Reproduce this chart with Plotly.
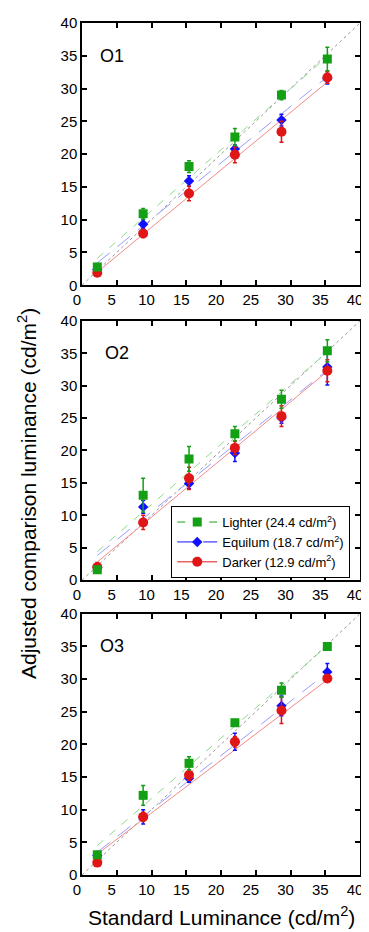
import plotly.graph_objects as go

# ---------------- data ----------------
std_lum = [2.2, 8.8, 15.4, 22.0, 28.7, 35.3]
panels = ["O1", "O2", "O3"]

lighter = {
    "O1": [2.8, 10.9, 18.1, 22.6, 29.0, 34.5],
    "O2": [1.6, 13.1, 18.7, 22.6, 27.9, 35.4],
    "O3": [3.1, 12.2, 17.1, 23.3, 28.3, 35.0],
}
lighter_err = {
    "O1": [0.5, 0.8, 0.9, 1.3, 0.7, 1.8],
    "O2": [0.5, 2.6, 1.9, 1.1, 1.4, 1.7],
    "O3": [0.3, 1.5, 1.0, 0.5, 1.1, 0.3],
}
equilum = {
    "O1": [2.4, 9.3, 15.9, 20.8, 25.2, 31.5],
    "O2": [2.0, 11.3, 14.9, 19.6, 25.0, 32.9],
    "O3": [3.0, 8.9, 14.8, 20.4, 25.9, 31.1],
}
equilum_err = {
    "O1": [0.4, 0.7, 0.8, 0.6, 0.9, 0.8],
    "O2": [0.5, 1.0, 0.8, 1.3, 0.8, 2.8],
    "O3": [0.4, 1.1, 0.6, 1.3, 1.5, 1.3],
}
darker = {
    "O1": [1.9, 7.9, 14.0, 19.9, 23.4, 31.7],
    "O2": [2.0, 8.9, 15.7, 20.4, 25.3, 32.3],
    "O3": [1.9, 8.9, 15.3, 20.4, 25.2, 30.1],
}
darker_err = {
    "O1": [0.3, 0.6, 1.1, 1.2, 1.6, 0.9],
    "O2": [0.7, 1.1, 1.7, 1.0, 1.6, 1.7],
    "O3": [0.3, 0.7, 0.8, 0.8, 2.0, 0.5],
}
# fitted line endpoints (at first and last standard luminance)
fit_x = [2.2, 35.3]
lighter_fit = {"O1": [4.1, 34.9], "O2": [4.4, 35.2], "O3": [4.5, 35.1]}
equilum_fit = {"O1": [3.4, 31.8], "O2": [3.8, 32.4], "O3": [3.5, 31.0]}
darker_fit = {"O1": [2.0, 31.0], "O2": [2.8, 32.2], "O3": [3.2, 29.9]}

legend_names = [
    "Lighter (24.4 cd/m<sup>2</sup>)",
    "Equilum (18.7 cd/m<sup>2</sup>)",
    "Darker (12.9 cd/m<sup>2</sup>)",
]
tick_vals = [0, 5, 10, 15, 20, 25, 30, 35, 40]

# ---------------- style ----------------
GREEN = "#14a014"
BLUE = "#1010ff"
RED = "#e01515"
GREEN_L = "#8fd88f"
BLUE_L = "#9a9aff"
RED_L = "#f08a8a"

fig = go.Figure()

domains = [[0.6922, 1.0], [0.3461, 0.6504], [0.0, 0.3066]]
label_x = [4.3, 5.0, 4.3]

for i, p in enumerate(panels):
    xa = "x" if i == 0 else f"x{i+1}"
    ya = "y" if i == 0 else f"y{i+1}"
    # identity line
    fig.add_trace(go.Scatter(x=[0, 40], y=[0, 40], mode="lines", xaxis=xa, yaxis=ya,
                             line=dict(color="#999999", width=1, dash="dot"),
                             showlegend=False, hoverinfo="skip"))
    # fitted lines
    fig.add_trace(go.Scatter(x=fit_x, y=darker_fit[p], mode="lines", xaxis=xa, yaxis=ya,
                             line=dict(color=RED_L, width=1), showlegend=False))
    fig.add_trace(go.Scatter(x=fit_x, y=equilum_fit[p], mode="lines", xaxis=xa, yaxis=ya,
                             line=dict(color=BLUE_L, width=1, dash="16px,10px"), showlegend=False))
    fig.add_trace(go.Scatter(x=fit_x, y=lighter_fit[p], mode="lines", xaxis=xa, yaxis=ya,
                             line=dict(color=GREEN_L, width=1, dash="8px,8px"), showlegend=False))
    # data points
    fig.add_trace(go.Scatter(x=std_lum, y=equilum[p], mode="markers", xaxis=xa, yaxis=ya,
                             marker=dict(symbol="diamond", size=8, color=BLUE),
                             error_y=dict(type="data", array=equilum_err[p], color=BLUE,
                                          thickness=1.5, width=2),
                             showlegend=False))
    fig.add_trace(go.Scatter(x=std_lum, y=darker[p], mode="markers", xaxis=xa, yaxis=ya,
                             marker=dict(symbol="circle", size=10, color=RED),
                             error_y=dict(type="data", array=darker_err[p], color=RED,
                                          thickness=1.5, width=2),
                             showlegend=False))
    fig.add_trace(go.Scatter(x=std_lum, y=lighter[p], mode="markers", xaxis=xa, yaxis=ya,
                             marker=dict(symbol="square", size=9, color=GREEN),
                             error_y=dict(type="data", array=lighter_err[p], color=GREEN,
                                          thickness=1.5, width=2),
                             showlegend=False))
    fig.add_annotation(x=label_x[i], y=35, xref=xa, yref=ya, text=p, showarrow=False,
                       font=dict(size=18, color="black"))

    axis_common = dict(range=[0, 40], tickvals=tick_vals, ticks="inside", ticklen=5,
                       tickwidth=1.5, tickcolor="black", showline=True, linecolor="black",
                       linewidth=1.5, mirror="ticks", showgrid=False, zeroline=False,
                       tickfont=dict(size=15, color="black"))
    fig.update_layout(**{
        ("xaxis" if i == 0 else f"xaxis{i+1}"): dict(anchor=ya, domain=[0, 1],
                                                     ticklabelshift=-5, **axis_common),
        ("yaxis" if i == 0 else f"yaxis{i+1}"): dict(anchor=xa, domain=domains[i], **axis_common),
    })

# legend entries (in O2 panel)
fig.add_trace(go.Scatter(x=[None], y=[None], mode="lines+markers", name=legend_names[0],
                         xaxis="x2", yaxis="y2",
                         line=dict(color=GREEN, width=1, dash="8px,8px"),
                         marker=dict(symbol="square", size=9, color=GREEN)))
fig.add_trace(go.Scatter(x=[None], y=[None], mode="lines+markers", name=legend_names[1],
                         xaxis="x2", yaxis="y2",
                         line=dict(color=BLUE, width=1, dash="16px,10px"),
                         marker=dict(symbol="diamond", size=8, color=BLUE)))
fig.add_trace(go.Scatter(x=[None], y=[None], mode="lines+markers", name=legend_names[2],
                         xaxis="x2", yaxis="y2",
                         line=dict(color=RED, width=1),
                         marker=dict(symbol="circle", size=10, color=RED)))

# page body adds an 8px offset, so the figure is drawn 8px smaller
fig.update_layout(
    width=361, height=924,
    margin=dict(l=74, r=7, t=6, b=57),
    plot_bgcolor="white", paper_bgcolor="white",
    font=dict(family="Liberation Sans, Arial, sans-serif", color="black"),
    showlegend=True,
    legend=dict(x=0.321, y=0.433, xanchor="left", yanchor="top",
                bordercolor="black", borderwidth=1, bgcolor="white",
                font=dict(size=13), itemwidth=40, tracegroupgap=0,
                traceorder="normal"),
)

fig.add_annotation(xref="paper", yref="paper", x=0.5, y=0, yshift=-41, yanchor="middle",
                   text="Standard Luminance (cd/m<sup>2</sup>)", showarrow=False,
                   font=dict(size=21, color="black"))
fig.add_annotation(xref="paper", yref="paper", x=0, xshift=-55, y=(875 - 490) / 861,
                   xanchor="center", yanchor="middle", textangle=-90,
                   text="Adjusted comparison luminance (cd/m<sup>2</sup>)", showarrow=False,
                   font=dict(size=21, color="black"))

fig.write_html("out.html")
